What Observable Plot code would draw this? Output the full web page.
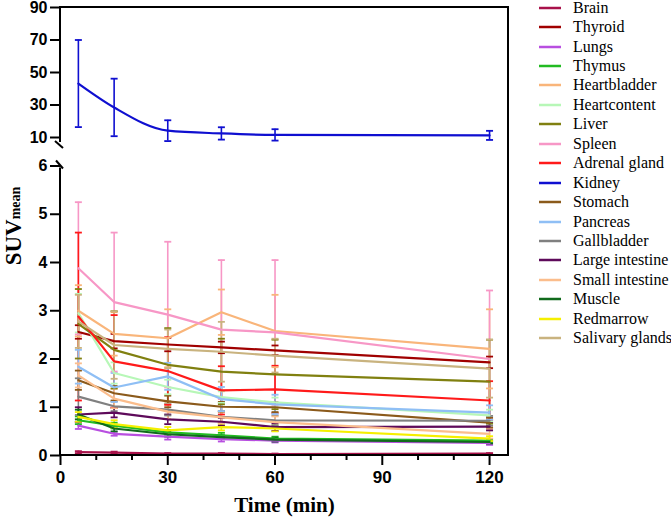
<!DOCTYPE html>
<html><head><meta charset="utf-8">
<script src="https://cdn.jsdelivr.net/npm/d3@7"></script>
<script src="https://cdn.jsdelivr.net/npm/@observablehq/plot@0.6"></script>
<style>
body{margin:0;background:#fff;}
#wrap{position:relative;width:671px;height:526px;overflow:hidden;background:#fff;}
#top,#bottom{position:absolute;left:0;}
#top{top:0}
#bottom{top:152px}
#top svg text,#bottom svg text{font-weight:bold;}
#ylabel{position:absolute;left:-46px;top:211px;width:120px;height:30px;line-height:30px;text-align:center;transform:rotate(-90deg);font-family:"Liberation Serif";font-weight:bold;font-size:23px;color:#000;white-space:nowrap;}
#ylabel span{font-size:14px;position:relative;top:-1px;}
#legend{position:absolute;left:538px;top:-2px;font-family:"Liberation Serif";font-size:16px;color:#000;white-space:nowrap;width:140px;}
.row{height:19.45px;display:flex;align-items:center;}
.row svg{margin-right:11px;flex:none;}
</style></head>
<body><div id="wrap"><div id="top"></div><div id="bottom"></div><div id="ylabel">SUV<span>mean</span></div><div id="legend"></div></div>
<script>
const times = [5, 15, 30, 45, 60, 120];
const organs = ["Brain","Thyroid","Lungs","Thymus","Heartbladder","Heartcontent","Liver","Spleen","Adrenal gland","Kidney","Stomach","Pancreas","Gallbladder","Large intestine","Small intestine","Muscle","Redmarrow","Salivary glands"];
const colors = ["#a8124a","#a00000","#b84fe0","#22bb22","#f9b57a","#b7f7b7","#808010","#f797c6","#ff1a1a","#0f0fd0","#8b5a1b","#8fbff5","#808080","#5e0a5a","#fbbd8c","#116a1c","#f5ef00","#c9b37f"];

const brainMean = [0.07,0.06,0.04,0.04,0.03,0.04];
const brainSD = [0.02,0.02,0.01,0.01,0.01,0.01];
const thyroidMean = [2.56,2.37,2.30,2.24,2.18,1.93];
const thyroidSD = [0.14,0.15,0.14,0.12,0.10,0.12];
const lungsMean = [0.62,0.45,0.39,0.34,0.31,0.26];
const lungsSD = [0.07,0.04,0.06,0.05,0.04,0.04];
const thymusMean = [0.73,0.62,0.48,0.42,0.35,0.31];
const thymusSD = [0.08,0.06,0.05,0.05,0.04,0.03];
const heartbladderMean = [3.00,2.52,2.43,2.97,2.58,2.21];
const heartbladderSD = [0.53,0.45,0.60,0.47,0.75,0.82];
const heartcontentMean = [2.95,1.71,1.42,1.21,1.10,0.83];
const heartcontentSD = [0.40,0.22,0.15,0.12,0.10,0.12];
const liverMean = [2.73,2.19,1.88,1.74,1.68,1.53];
const liverSD = [0.72,0.80,0.76,0.68,0.72,0.87];
const spleenMean = [3.88,3.18,2.92,2.61,2.55,2.00];
const spleenSD = [1.37,1.44,1.51,1.44,1.50,1.42];
const adrenalMean = [2.88,1.95,1.75,1.35,1.37,1.14];
const adrenalSD = [1.74,0.96,0.70,0.50,0.49,0.40];
const kidneyMean = [43.2,28.5,14.2,12.5,11.6,11.3];
const kidneySD = [26.8,17.7,6.4,3.8,3.5,2.8];
const stomachMean = [1.56,1.29,1.12,1.01,1.00,0.68];
const stomachSD = [0.20,0.15,0.12,0.10,0.10,0.10];
const pancreasMean = [1.84,1.41,1.64,1.17,1.06,0.89];
const pancreasSD = [0.35,0.30,0.28,0.25,0.20,0.15];
const gallbladderMean = [1.22,1.02,0.95,0.80,0.73,0.72];
const gallbladderSD = [0.38,0.10,0.12,0.12,0.10,0.10];
const largeIntMean = [0.85,0.89,0.75,0.70,0.59,0.60];
const largeIntSD = [0.15,0.10,0.10,0.08,0.08,0.08];
const smallIntMean = [1.66,1.18,0.91,0.79,0.69,0.45];
const smallIntSD = [0.25,0.20,0.15,0.12,0.12,0.10];
const muscleMean = [0.85,0.56,0.44,0.38,0.33,0.28];
const muscleSD = [0.10,0.06,0.05,0.04,0.04,0.03];
const redmarrowMean = [0.80,0.65,0.52,0.59,0.56,0.35];
const redmarrowSD = [0.10,0.08,0.07,0.07,0.06,0.05];
const salivaryMean = [2.78,2.29,2.21,2.15,2.07,1.80];
const salivarySD = [0.55,0.70,0.40,0.62,0.35,0.60];

const topTicks = [10, 30, 50, 70, 90];
const bottomTicks = [0, 1, 2, 3, 4, 5, 6];
const xMajorTicks = [0, 30, 60, 90, 120];
const xMinorTicks = [10, 20, 40, 50, 70, 80, 100, 110];
const xLabel = "Time (min)";

const means = [brainMean,thyroidMean,lungsMean,thymusMean,heartbladderMean,heartcontentMean,liverMean,spleenMean,adrenalMean,kidneyMean,stomachMean,pancreasMean,gallbladderMean,largeIntMean,smallIntMean,muscleMean,redmarrowMean,salivaryMean];
const sds = [brainSD,thyroidSD,lungsSD,thymusSD,heartbladderSD,heartcontentSD,liverSD,spleenSD,adrenalSD,kidneySD,stomachSD,pancreasSD,gallbladderSD,largeIntSD,smallIntSD,muscleSD,redmarrowSD,salivarySD];

const rows = organs.flatMap((o, i) => times.map((t, j) => ({organ: o, t, m: means[i][j], sd: sds[i][j]})));
const kidneyRows = rows.filter(d => d.organ === "Kidney");
const lowerRows = rows.filter(d => d.organ !== "Kidney");

const xDomain = [0, 125.3];
const capSymbol = {draw(ctx, size) { ctx.moveTo(-3.5, 0); ctx.lineTo(3.5, 0); }};
const colorScale = {domain: organs, range: colors};
const tickFont = {fontSize: 16, fontWeight: "bold", fontFamily: "Liberation Sans", tickFormat: d => String(d)};
const svgStyle = {background: "transparent", color: "black", overflow: "visible", fontFamily: "Liberation Sans", fontSize: "16px", fontWeight: "bold"};

function errMarks(data) {
  return [
    Plot.ruleX(data, {x: "t", y1: d => d.m - d.sd, y2: d => d.m + d.sd, stroke: "organ", strokeWidth: 1.6}),
    Plot.dot(data, {x: "t", y: d => d.m + d.sd, symbol: capSymbol, r: 3, fill: "none", stroke: "organ", strokeWidth: 1.8}),
    Plot.dot(data, {x: "t", y: d => d.m - d.sd, symbol: capSymbol, r: 3, fill: "none", stroke: "organ", strokeWidth: 1.8})
  ];
}

const topDeco = (index, scales, values, dims) => {
  const x0 = scales.x(0), xr = scales.x(xDomain[1]);
  const yT = scales.y(topTicks[topTicks.length - 1]), yB = scales.y(topTicks[0]);
  const g = d3.create("svg:g").attr("fill", "none").attr("stroke", "black").attr("stroke-width", 2);
  g.append("path").attr("d", `M${x0},${yT}H${xr}M${xr},${yT - 1}V${dims.height}M${x0},${yT - 1}V${yB + 5}`);
  g.append("path").attr("d", `M${x0 - 5},${yB + 4}L${x0 + 3},${yB + 11}`);
  return g.node();
};
const bottomDeco = (index, scales, values, dims) => {
  const x0 = scales.x(0), xr = scales.x(xDomain[1]);
  const yT = scales.y(bottomTicks[bottomTicks.length - 1]), yB = scales.y(0);
  const g = d3.create("svg:g").attr("fill", "none").attr("stroke", "black").attr("stroke-width", 2);
  g.append("path").attr("d", `M${x0},${yT + 2}V${yB}H${xr}M${xr},0V${yB + 1}`);
  g.append("path").attr("d", `M${x0 - 4},${yT - 5}L${x0 + 3},${yT + 3}`);
  return g.node();
};

const topPlot = Plot.plot({
  width: 520, height: 152,
  marginLeft: 60, marginRight: 12, marginTop: 7, marginBottom: 15,
  x: {domain: xDomain, axis: null},
  y: {domain: [10, 90], axis: null},
  color: colorScale,
  style: svgStyle,
  marks: [
    Plot.axisY({ticks: topTicks, tickSize: 10, tickPadding: 3, strokeWidth: 2, label: null, ...tickFont}),
    ...errMarks(kidneyRows),
    Plot.line(kidneyRows, {x: "t", y: "m", stroke: "organ", strokeWidth: 2.2, curve: "monotone-x"}),
    topDeco
  ]
});
document.getElementById("top").append(topPlot);

const bottomPlot = Plot.plot({
  width: 520, height: 374,
  marginLeft: 60, marginRight: 12, marginTop: 13.5, marginBottom: 71,
  x: {domain: xDomain, axis: null},
  y: {domain: [0, 6], axis: null},
  color: colorScale,
  style: svgStyle,
  marks: [
    Plot.axisY({ticks: bottomTicks, tickSize: 10, tickPadding: 3, strokeWidth: 2, label: null, ...tickFont}),
    Plot.axisX({ticks: xMajorTicks, tickSize: 10, tickPadding: 5, strokeWidth: 2, label: null, ...tickFont, fontSize: 17}),
    Plot.axisX({ticks: xMinorTicks, tickSize: 5, strokeWidth: 2, text: null, label: null}),
    ...errMarks(lowerRows),
    Plot.line(lowerRows, {x: "t", y: "m", stroke: "organ", strokeWidth: 2.2}),
    Plot.text([xLabel], {frameAnchor: "bottom", dy: 56, fontFamily: "Liberation Serif", fontWeight: "bold", fontSize: 21, fill: "black"}),
    bottomDeco
  ]
});
document.getElementById("bottom").append(bottomPlot);

const legend = d3.select("#legend");
organs.forEach((o, i) => {
  const r = legend.append("div").attr("class", "row");
  const s = r.append("svg").attr("width", 24).attr("height", 6);
  s.append("line").attr("x1", 1).attr("x2", 23).attr("y1", 3).attr("y2", 3).attr("stroke", colors[i]).attr("stroke-width", 2.5);
  r.append("span").text(o);
});
</script></body></html>
